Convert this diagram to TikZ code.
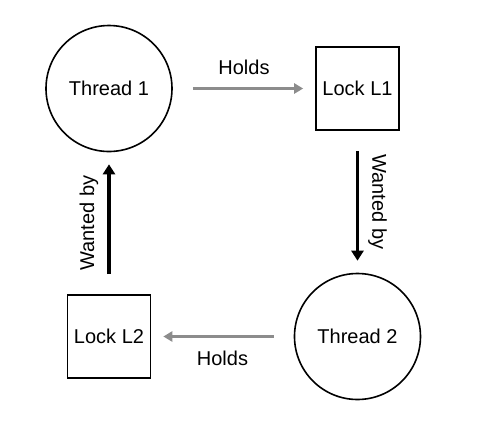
\documentclass[tikz,border=0pt]{standalone}
\usepackage{fontspec}
\setmainfont{Liberation Sans}
\usetikzlibrary{arrows.meta}
\definecolor{holdgray}{RGB}{140,140,140}

\begin{document}
\begin{tikzpicture}[x=0.5pt, y=-0.5pt,
  thread/.style={draw, circle, line width=0.8pt, minimum size=63pt, inner sep=0pt},
  lock/.style={draw, rectangle, line width=0.8pt, minimum size=41.5pt, inner sep=1pt},
  holds/.style={draw=holdgray, line width=1.5pt, -{Triangle[length=4.5pt,width=5pt]}, shorten <=10pt, shorten >=6pt},
  wanted/.style={draw=black, line width=1.7pt, -{Triangle[length=5pt,width=6pt]}, shorten <=10pt, shorten >=6pt}]
\useasboundingbox (0,0) rectangle (479,425);
\node[thread] (t1) at (109,88.5) {Thread 1};
\node[lock] (l1) at (357.5,88.5) {Lock L1};
\node[thread] (t2) at (357.5,336.5) {Thread 2};
\node[lock] (l2) at (109,336.5) {Lock L2};
\draw[holds] (t1) -- node[midway, above=3pt] {Holds} (l1);
\draw[wanted] (l1) -- node[midway, xshift=10pt, rotate=-90] {Wanted by} (t2);
\draw[holds] (t2) -- node[midway, below=3pt] {Holds} (l2);
\draw[wanted] (l2) -- node[midway, xshift=-10pt, rotate=90] {Wanted by} (t1);
\end{tikzpicture}
\end{document}
